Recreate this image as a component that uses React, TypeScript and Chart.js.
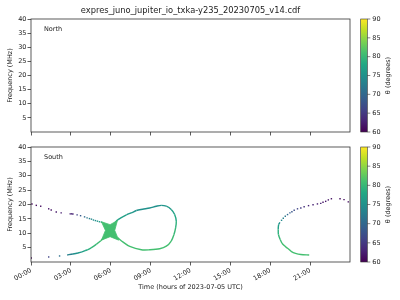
import React, { useEffect, useRef } from 'react';
import { Chart, registerables } from 'chart.js';

Chart.register(...registerables);

const FONT = "'DejaVu Sans', sans-serif";
const TEXT = '#222';
const AXIS = '#333';

const FILE_TITLE = 'expres_juno_jupiter_io_txka-y235_20230705_v14.cdf';
const X_LABEL = 'Time (hours of 2023-07-05 UTC)';
const Y_LABEL = 'Frequency (MHz)';
const CB_LABEL = 'θ (degrees)';
const PANEL_LABELS = ['North', 'South'];

const TIME_MIN = 0;
const TIME_MAX = 24;
const TIME_STEP = 3;
const FREQ_MIN = 0;
const FREQ_MAX = 40;
const FREQ_STEP = 5;
const THETA_MIN = 60;
const THETA_MAX = 90;
const THETA_TICKS = [60, 65, 70, 75, 80, 85, 90];

const VIRIDIS = ['#440154', '#482475', '#414487', '#355f8d', '#2a788e', '#21918c', '#22a884', '#44bf70', '#7ad151', '#bddf26', '#fde725'];

// [time (hours), frequency (MHz), theta (degrees)]
type P = [number, number, number];

const northPoints: P[] = [];

const southUpperArm: P[] = [
  [0.07, 20.2, 60.5], [0.4, 19.7, 61], [0.73, 19.4, 61], [1.33, 18.5, 61.5], [1.52, 18.1, 61.5],
  [1.9, 17.4, 62], [2.27, 17.1, 62.5], [2.95, 16.75, 63], [3.05, 16.75, 63], [3.15, 16.7, 63],
  [3.47, 16.4, 66], [3.73, 16.1, 68.5], [4.03, 15.7, 70.5], [4.22, 15.35, 72], [4.4, 15.1, 73],
  [4.55, 14.9, 74], [4.7, 14.6, 74.5], [4.85, 14.4, 75], [5.0, 14.2, 75.5], [5.15, 14.0, 76],
  [5.3, 13.85, 77],
];

const southLowerArmDots: P[] = [
  [0.02, 1.4, 60.5], [1.33, 1.75, 66], [2.15, 2.1, 71],
];

const southLowerArmLine: P[] = [
  [2.72, 2.45, 73], [3.15, 2.8, 75], [3.53, 3.15, 76], [3.83, 3.5, 77], [4.07, 3.95, 78],
  [4.28, 4.3, 79], [4.52, 4.9, 80], [4.93, 6.2, 80.5], [5.25, 7.4, 81], [5.5, 8.5, 81],
];

// outline of the dense crossing region [time, frequency]
const southCrossing: [number, number][] = [
  [5.3, 14.0], [5.95, 13.0], [6.5, 14.4], [6.3, 11.0], [6.6, 7.6], [5.95, 8.8], [5.3, 7.6], [5.6, 11.0],
];
const southCrossingTheta = 81;

const southLoop: P[] = [
  [6.3, 13.6, 78], [6.55, 14.75, 77], [7.18, 16.4, 76], [7.6, 17.2, 75.5], [7.93, 17.9, 75],
  [8.4, 18.35, 75], [8.93, 18.8, 75], [9.43, 19.4, 75], [9.8, 19.7, 75.5], [10.18, 19.4, 76],
  [10.55, 18.3, 77], [10.8, 16.6, 78], [10.93, 14.2, 79], [10.88, 11.9, 80], [10.75, 9.5, 80.5],
  [10.55, 7.3, 81], [10.18, 5.5, 81], [9.68, 4.6, 81], [8.93, 4.25, 81], [8.3, 4.25, 81],
  [7.43, 5.4, 81], [6.93, 6.9, 81], [6.5, 8.5, 81],
];

const southRightDots: P[] = [
  [23.87, 20.9, 61], [23.55, 21.7, 61], [23.25, 22.0, 61], [22.6, 22.0, 61.5], [22.37, 21.6, 62],
  [22.17, 21.1, 62], [21.97, 20.8, 62], [21.8, 20.4, 62.5], [21.55, 20.2, 62.5], [21.22, 19.9, 63],
  [20.88, 19.6, 63], [20.55, 19.2, 64], [20.3, 18.8, 65], [20.05, 18.5, 66], [19.8, 18.0, 67],
  [19.63, 17.5, 68], [19.48, 17.1, 69], [19.3, 16.5, 70], [19.13, 15.9, 72], [18.98, 15.2, 73],
  [18.85, 14.5, 74],
];

const southRightLine: P[] = [
  [18.73, 13.8, 75], [18.63, 13.0, 77], [18.6, 11.3, 79], [18.62, 9.5, 80], [18.75, 7.8, 80.5],
  [18.88, 6.6, 81], [19.05, 5.7, 81], [19.23, 5.0, 81], [19.38, 4.5, 81], [19.6, 3.6, 81],
  [19.9, 3.0, 81], [20.3, 2.6, 81], [20.93, 2.44, 81],
];

function hexRgb(h: string) {
  const n = parseInt(h.slice(1), 16);
  return [(n >> 16) & 255, (n >> 8) & 255, n & 255];
}

function viridis(theta: number) {
  const u = Math.max(0, Math.min(1, (theta - THETA_MIN) / (THETA_MAX - THETA_MIN))) * 10;
  const i = Math.min(9, Math.floor(u));
  const f = u - i;
  const a = hexRgb(VIRIDIS[i]);
  const b = hexRgb(VIRIDIS[i + 1]);
  const c = a.map((v, k) => Math.round(v + (b[k] - v) * f));
  return `rgb(${c[0]},${c[1]},${c[2]})`;
}

const toData = (pts: P[]) => pts.map(([x, y, theta]) => ({ x, y, theta }));

function dotsDataset(pts: P[]) {
  return {
    data: toData(pts),
    showLine: false,
    pointStyle: 'rect',
    pointRadius: 1,
    pointHoverRadius: 1,
    pointBorderWidth: 0,
    pointBackgroundColor: pts.map((p) => viridis(p[2])),
    pointBorderColor: pts.map((p) => viridis(p[2])),
  };
}

function lineDataset(pts: P[]) {
  return {
    data: toData(pts),
    showLine: true,
    borderWidth: 1.4,
    pointRadius: 0,
    pointHoverRadius: 0,
    tension: 0.3,
    fill: false,
    borderColor: viridis(pts[0][2]),
    segment: { borderColor: (ctx: any) => viridis(pts[ctx.p0DataIndex][2]) },
  };
}

function shapeDataset(pts: [number, number][], theta: number) {
  const c = viridis(theta);
  return {
    data: [...pts, pts[0]].map(([x, y]) => ({ x, y })),
    showLine: true,
    borderWidth: 0.8,
    borderColor: c,
    backgroundColor: c,
    fill: 'shape',
    pointRadius: 0,
    pointHoverRadius: 0,
    tension: 0,
  };
}

const decorPlugin = {
  id: 'decor',
  afterDraw(chart: any, _args: any, opts: any) {
    const { ctx, chartArea: a } = chart;
    ctx.save();
    ctx.strokeStyle = AXIS;
    ctx.lineWidth = 0.8;
    ctx.strokeRect(a.left, a.top, a.right - a.left, a.bottom - a.top);

    ctx.fillStyle = TEXT;
    ctx.font = `6.5px ${FONT}`;
    ctx.textAlign = 'left';
    ctx.textBaseline = 'middle';
    ctx.fillText(opts.label, a.left + 13, a.top + 10.5);

    if (opts.title) {
      ctx.font = `8.3px ${FONT}`;
      ctx.textAlign = 'center';
      ctx.fillText(opts.title, (a.left + a.right) / 2, a.top - 8);
    }

    // colorbar
    const cbL = a.right + 10.7;
    const cbW = 6.6;
    const h = a.bottom - a.top;
    const grad = ctx.createLinearGradient(0, a.bottom, 0, a.top);
    VIRIDIS.forEach((c, i) => grad.addColorStop(i / 10, c));
    ctx.fillStyle = grad;
    ctx.fillRect(cbL, a.top, cbW, h);
    ctx.strokeStyle = AXIS;
    ctx.lineWidth = 0.6;
    ctx.strokeRect(cbL, a.top, cbW, h);
    ctx.fillStyle = TEXT;
    ctx.font = `6.5px ${FONT}`;
    ctx.textAlign = 'left';
    ctx.textBaseline = 'middle';
    THETA_TICKS.forEach((t) => {
      const y = a.bottom - ((t - THETA_MIN) / (THETA_MAX - THETA_MIN)) * h;
      ctx.beginPath();
      ctx.moveTo(cbL + cbW, y);
      ctx.lineTo(cbL + cbW + 3, y);
      ctx.stroke();
      ctx.fillText(String(t), cbL + cbW + 5, y);
    });
    ctx.translate(a.right + 38, (a.top + a.bottom) / 2);
    ctx.rotate(-Math.PI / 2);
    ctx.textAlign = 'center';
    ctx.fillText(CB_LABEL, 0, 0);
    ctx.restore();
  },
};

type PanelProps = {
  top: number;
  height: number;
  padTop: number;
  xAxisHeight: number;
  showX: boolean;
  label: string;
  title?: string;
  datasets: any[];
};

function Panel({ top, height, padTop, xAxisHeight, showX, label, title, datasets }: PanelProps) {
  const ref = useRef<HTMLCanvasElement>(null);
  useEffect(() => {
    const tickFont = { family: FONT, size: 6.5 };
    const chart = new Chart(ref.current as HTMLCanvasElement, {
      type: 'scatter',
      data: { datasets },
      plugins: [decorPlugin],
      options: {
        animation: false,
        responsive: false,
        devicePixelRatio: 1,
        layout: { padding: { top: padTop, right: 50, left: 0, bottom: 0 } },
        plugins: {
          legend: { display: false },
          tooltip: { enabled: false },
          decor: { label, title },
        } as any,
        scales: {
          x: {
            type: 'linear',
            min: TIME_MIN,
            max: TIME_MAX,
            border: { display: false },
            grid: { drawOnChartArea: false, drawTicks: true, tickLength: 3.5, tickColor: AXIS, tickWidth: 0.8 },
            ticks: {
              display: showX,
              stepSize: TIME_STEP,
              autoSkip: false,
              minRotation: 30,
              maxRotation: 30,
              padding: 1,
              color: TEXT,
              font: tickFont,
              callback: (v: any) => `${String(v).padStart(2, '0')}:00`,
            },
            afterBuildTicks: (s: any) => {
              s.ticks = s.ticks.filter((t: any) => t.value < TIME_MAX);
            },
            afterFit: (s: any) => {
              s.height = xAxisHeight;
            },
            title: {
              display: showX,
              text: X_LABEL,
              color: TEXT,
              font: tickFont,
              padding: { top: 0, bottom: 9 },
            },
          },
          y: {
            type: 'linear',
            min: FREQ_MIN,
            max: FREQ_MAX,
            border: { display: false },
            grid: { drawOnChartArea: false, drawTicks: true, tickLength: 3.5, tickColor: AXIS, tickWidth: 0.8 },
            ticks: { stepSize: FREQ_STEP, padding: 1, color: TEXT, font: tickFont },
            afterBuildTicks: (s: any) => {
              s.ticks = s.ticks.filter((t: any) => t.value > FREQ_MIN);
            },
            afterFit: (s: any) => {
              s.width = 31;
            },
            title: {
              display: true,
              text: Y_LABEL,
              color: TEXT,
              font: tickFont,
              padding: { top: 6, bottom: 0 },
            },
          },
        },
      } as any,
    });
    return () => chart.destroy();
  }, []);
  return (
    <canvas
      ref={ref}
      width={400}
      height={height}
      style={{ position: 'absolute', left: 0, top, width: 400, height }}
    />
  );
}

const northDatasets = [dotsDataset(northPoints)];
const southDatasets = [
  shapeDataset(southCrossing, southCrossingTheta),
  dotsDataset(southUpperArm),
  dotsDataset(southLowerArmDots),
  lineDataset(southLowerArmLine),
  lineDataset(southLoop),
  dotsDataset(southRightDots),
  lineDataset(southRightLine),
];

export default function App() {
  return (
    <div style={{ position: 'fixed', left: 0, top: 0, width: 400, height: 300, background: '#fff' }}>
      <Panel top={0} height={140} padTop={19} xAxisHeight={8} showX={false} label={PANEL_LABELS[0]} title={FILE_TITLE} datasets={northDatasets} />
      <Panel top={140} height={160} padTop={7} xAxisHeight={38} showX={true} label={PANEL_LABELS[1]} datasets={southDatasets} />
    </div>
  );
}
